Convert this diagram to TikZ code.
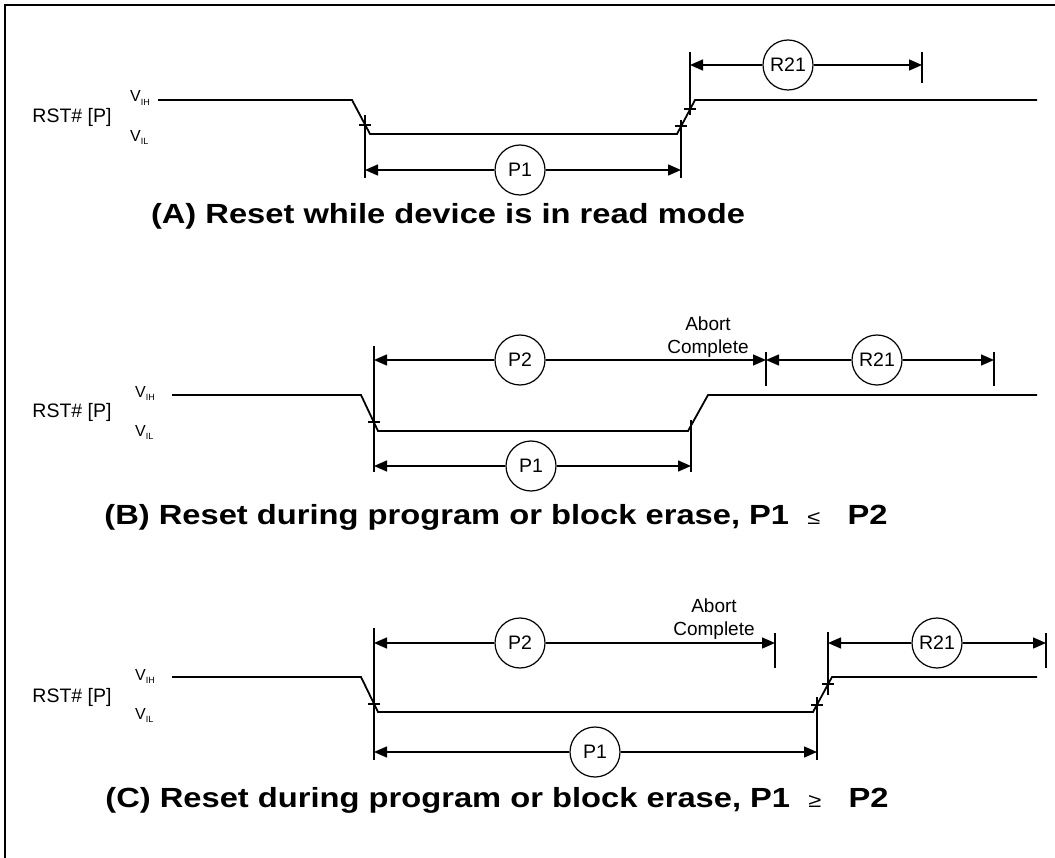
\documentclass[tikz,border=0pt]{standalone}
\usepackage{fontspec}
\setmainfont{Liberation Sans}
\newfontfamily\titlefont[FakeStretch=1.18]{Liberation Sans}
\usetikzlibrary{arrows.meta, positioning, calc}

\newcommand{\vlev}[1]{{\fontsize{16}{16}\selectfont V}\raisebox{-3pt}{\fontsize{9}{9}\selectfont #1}}
\newcommand{\relsym}[1]{\ \ {\fontsize{20}{20}\selectfont\mdseries #1}\ \ \ }

\begin{document}
\begin{tikzpicture}[x=1pt, y=-1pt,
    every node/.style={inner sep=0pt, font=\fontsize{19.5}{21}\selectfont},
    sig/.style={line width=1.8pt},
    ext/.style={line width=1.5pt},
    dim/.style={line width=1.5pt, -{Triangle[length=13pt,width=11pt]}},
    tick/.style={line width=1.2pt},
    tag/.style={draw, circle, line width=1.2pt, minimum size=50pt, fill=white},
    caption/.style={font=\titlefont\bfseries\fontsize{27.7}{30}\selectfont},
    note/.style={align=center, font=\fontsize{19}{23}\selectfont},
]
\useasboundingbox (0,0) rectangle (1055,858);
\draw[line width=2.5pt] (5,858) -- (5,5) -- (1055,5);

% (A) read mode
\node (rstA) at (72,117) {RST\# [P]};
\node[anchor=west] (vihA) at (130,98) {\vlev{IH}};
\node[anchor=west] (vilA) at (130,137) {\vlev{IL}};
\draw[sig] (158,100) -- (352,100) -- (370,134) -- (677,134) -- (695,100) -- (1037,100);
\draw[tick] (359,125) -- (371,125) (675,126) -- (687,126) (684,109) -- (696,109);
\draw[ext] (365,115) -- (365,178) (681,120) -- (681,178);
\draw[ext] (690,52) -- (690,115) (922,52) -- (922,83);
\coordinate (p1Al) at (365,170);
\coordinate (p1Ar) at (681,170);
\coordinate (r21Al) at (690,65);
\coordinate (r21Ar) at (922,65);
\node[tag] (p1A) at (520,170) {P1};
\node[tag] (r21A) at (788,65) {R21};
\draw[dim] (p1A) -- (p1Al);
\draw[dim] (p1A) -- (p1Ar);
\draw[dim] (r21A) -- (r21Al);
\draw[dim] (r21A) -- (r21Ar);
\node[caption] (capA) at (448,216) {(A) Reset while device is in read mode};

% (B) P1 <= P2
\node (rstB) at (72,412) {RST\# [P]};
\node[anchor=west] (vihB) at (135,393) {\vlev{IH}};
\node[anchor=west] (vilB) at (135,432) {\vlev{IL}};
\draw[sig] (172,395) -- (361,395) -- (378,431) -- (688,431) -- (708,395) -- (1037,395);
\draw[tick] (368,422) -- (380,422);
\draw[ext] (374,346) -- (374,472) (691,420) -- (691,472);
\draw[ext] (766,352) -- (766,386) (994,352) -- (994,386);
\coordinate (p2Bl) at (374,360);
\coordinate (p2Br) at (766,360);
\coordinate (p1Bl) at (374,466);
\coordinate (p1Br) at (691,466);
\coordinate (r21Bl) at (766,360);
\coordinate (r21Br) at (994,360);
\node[tag] (p2B) at (520,360) {P2};
\node[tag] (p1B) at (531,466) {P1};
\node[tag] (r21B) at (877,360) {R21};
\draw[dim] (p2B) -- (p2Bl);
\draw[dim] (p2B) -- (p2Br);
\draw[dim] (p1B) -- (p1Bl);
\draw[dim] (p1B) -- (p1Br);
\draw[dim] (r21B) -- (r21Bl);
\draw[dim] (r21B) -- (r21Br);
\node[note] (abortB) at (708,337) {Abort\\Complete};
\node[caption] (capB) at (496,517) {(B) Reset during program or block erase, P1\relsym{≤}P2};

% (C) P1 >= P2
\node (rstC) at (72,697) {RST\# [P]};
\node[anchor=west] (vihC) at (135,676) {\vlev{IH}};
\node[anchor=west] (vilC) at (135,715) {\vlev{IL}};
\draw[sig] (172,677) -- (361,677) -- (378,712) -- (813,712) -- (832,677) -- (1037,677);
\draw[tick] (368,704) -- (380,704) (811,705) -- (823,705) (822,684) -- (834,684);
\draw[ext] (374,628) -- (374,760) (775,633) -- (775,668);
\draw[ext] (817,697) -- (817,760) (828,632) -- (828,695) (1046,633) -- (1046,668);
\coordinate (p2Cl) at (374,643);
\coordinate (p2Cr) at (775,643);
\coordinate (p1Cl) at (374,752);
\coordinate (p1Cr) at (817,752);
\coordinate (r21Cl) at (828,643);
\coordinate (r21Cr) at (1046,643);
\node[tag] (p2C) at (520,643) {P2};
\node[tag] (p1C) at (595,752) {P1};
\node[tag] (r21C) at (937,643) {R21};
\draw[dim] (p2C) -- (p2Cl);
\draw[dim] (p2C) -- (p2Cr);
\draw[dim] (p1C) -- (p1Cl);
\draw[dim] (p1C) -- (p1Cr);
\draw[dim] (r21C) -- (r21Cl);
\draw[dim] (r21C) -- (r21Cr);
\node[note] (abortC) at (714,619) {Abort\\Complete};
\node[caption] (capC) at (497,800) {(C) Reset during program or block erase, P1\relsym{≥}P2};
\end{tikzpicture}
\end{document}
